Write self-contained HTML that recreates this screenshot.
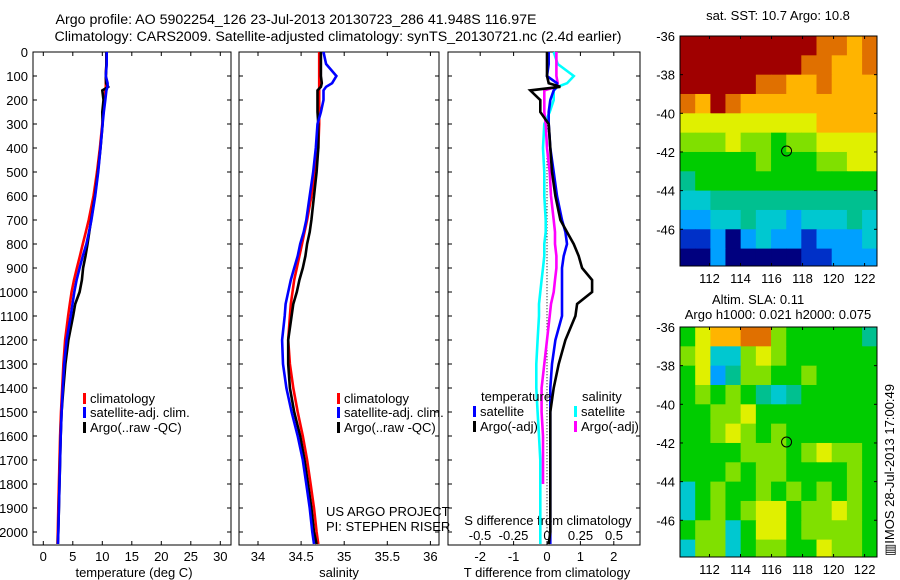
<!DOCTYPE html>
<html><head><meta charset="utf-8">
<style>
html,body{margin:0;padding:0;background:#fff;}
svg{display:block;font-family:"Liberation Sans",sans-serif;font-size:13px;}
.ttl{font-size:14.2px;}
</style></head>
<body>
<svg id="chart" width="900" height="580" viewBox="0 0 900 580" xmlns="http://www.w3.org/2000/svg">
<text class="ttl" x="296" y="24" text-anchor="middle">Argo profile: AO 5902254_126 23-Jul-2013 20130723_286 41.948S 116.97E</text>
<text class="ttl" x="338" y="41" text-anchor="middle">Climatology: CARS2009. Satellite-adjusted climatology: synTS_20130721.nc (2.4d earlier)</text>
<g id="g"></g>
</svg>
<script>
// ---- data ----
const depths = [0,50,100,130,145,160,200,250,300,400,500,600,700,750,800,850,900,950,1000,1050,1100,1200,1300,1400,1500,1600,1700,1800,1900,2000,2050];
const depthTicks = [0,100,200,300,400,500,600,700,800,900,1000,1100,1200,1300,1400,1500,1600,1700,1800,1900,2000];
const climT = [10.7,10.7,10.6,10.6,10.6,10.5,10.4,10.2,10.0,9.6,9.1,8.5,7.7,7.2,6.7,6.2,5.7,5.2,4.8,4.5,4.2,3.7,3.4,3.2,3.0,2.85,2.75,2.65,2.55,2.45,2.4];
const satT = [10.75,10.75,10.6,10.9,10.9,10.7,10.5,10.25,10.05,9.7,9.3,8.8,8.15,7.75,7.3,6.7,6.15,5.65,5.25,4.95,4.65,3.95,3.55,3.3,3.1,2.95,2.85,2.75,2.65,2.55,2.5];
const argoT = [10.7,10.7,10.6,10.65,11.0,10.0,10.2,10.0,10.05,9.7,9.25,8.75,8.1,7.8,7.5,7.15,6.75,6.55,6.15,5.4,5.05,4.25,3.75,3.4,3.1,2.95,2.85,2.75,2.65,2.55,2.45];
const climS = [34.71,34.71,34.71,34.71,34.71,34.71,34.71,34.71,34.71,34.70,34.66,34.62,34.57,34.54,34.51,34.48,34.45,34.42,34.40,34.38,34.37,34.35,34.37,34.41,34.46,34.52,34.57,34.61,34.65,34.68,34.70];
const satS = [34.76,34.79,34.91,34.86,34.79,34.76,34.76,34.73,34.69,34.67,34.64,34.60,34.56,34.53,34.49,34.46,34.42,34.38,34.35,34.32,34.31,34.28,34.29,34.33,34.39,34.46,34.52,34.56,34.60,34.63,34.65];
const argoS = [34.73,34.73,34.73,34.74,34.73,34.69,34.69,34.69,34.70,34.70,34.68,34.65,34.62,34.60,34.57,34.55,34.52,34.48,34.45,34.41,34.39,34.35,34.35,34.37,34.42,34.49,34.54,34.58,34.62,34.65,34.68];
const dTsat = [0.05,0.05,0,0.3,0.3,0.2,0.1,0.05,0.05,0.1,0.2,0.3,0.45,0.55,0.6,0.5,0.45,0.45,0.45,0.45,0.45,0.25,0.15,0.1,0.1,0.1,0.1,0.1,0.1,0.1,0.1];
const dTargo = [0,0,0,0.05,0.4,-0.5,-0.2,-0.2,0.05,0.1,0.15,0.25,0.4,0.6,0.8,0.95,1.05,1.35,1.35,0.9,0.85,0.55,0.35,0.2,0.1,0.1,0.1,0.1,0.1,0.1,0.05];
const dSsat = [0.05,0.08,0.2,0.15,0.08,0.05,0.05,0.02,-0.02,-0.03,-0.02,-0.02,-0.01,-0.01,-0.02,-0.02,-0.03,-0.04,-0.05,-0.06,-0.06,-0.07,-0.08,-0.08,-0.07,-0.06,-0.05,-0.05,-0.05,-0.05,-0.05];
const dSargo = [0.07,0.07,0.07,0.08,0.07,-0.02,-0.02,-0.02,-0.01,0.0,0.02,0.03,0.05,0.06,0.06,0.07,0.07,0.06,0.05,0.03,0.02,0.0,-0.02,-0.04,-0.04,-0.03,-0.03,-0.03,null,null,null];
const tTicks = [0,5,10,15,20,25,30];
const sTicks = [34,34.5,35,35.5,36];
const dTTicks = [-2,-1,0,1,2];
const dSTicks = [-0.5,-0.25,0,0.25,0.5];
const dSTickLabels = ["-0.5","-0.25","0","0.25","0.5"];
const lonTicks = [112,114,116,118,120,122];
const latTicks = [-36,-38,-40,-42,-44,-46];
const mapLons = [110.1,111.08,112.06,113.03,114.01,114.99,115.97,116.95,117.92,118.9,119.88,120.86,121.84];
const mapLats = [-36,-37,-38,-39,-40,-41,-42,-43,-44,-45,-46,-47];
const sst = [
[10,10,10,10,10,10,10,10,10,9,9,8,9],
[10,10,10,10,10,10,10,10,9,9,8,8,9],
[10,10,10,10,10,9,9,8,8,9,8,8,8],
[9,8,10,9,8,8,8,8,8,8,8,8,8],
[7,7,7,7,7,7,7,7,7,8,8,8,8],
[6,6,6,7,6,6,5,6,6,7,7,7,7],
[5,5,5,5,5,6,5,5,5,6,6,7,7],
[4,5,5,5,5,5,5,5,5,5,5,5,5],
[3,3,4,4,4,4,4,4,4,4,4,4,4],
[2,2,3,3,4,3,3,2,3,3,3,4,3],
[1,1,2,0,2,3,2,2,1,2,2,2,3],
[0,0,2,0,0,0,0,0,1,1,2,2,2]];
const sla = [
[5,7,8,8,9,9,6,5,5,5,5,5,4],
[6,7,3,3,6,7,6,5,5,5,5,5,5],
[5,7,2,4,6,6,5,5,6,5,5,5,5],
[5,6,5,6,5,4,3,4,5,5,5,5,5],
[5,5,6,6,7,5,5,5,5,5,5,5,5],
[5,5,6,7,6,5,6,5,5,5,5,5,5],
[5,5,5,5,6,6,6,5,6,7,6,6,5],
[5,5,5,6,5,6,6,5,5,5,5,6,5],
[3,5,6,5,5,6,5,6,5,6,5,6,5],
[3,5,6,5,6,7,7,5,6,6,7,6,5],
[5,6,6,3,5,7,7,5,6,6,6,6,5],
[3,6,6,3,5,6,6,5,5,7,6,6,5]];
const floatLon = 116.97, floatLat = -41.95;

const palette = ["#00007f","#0030c8","#00a0ff","#00c8d0","#00c090","#00cc00","#80e000","#e0f000","#ffb400","#e07000","#a00000"];
const NS="http://www.w3.org/2000/svg";
const G=document.getElementById('g');
function mk(tag,attrs,parent){const e=document.createElementNS(NS,tag);for(const k in attrs)e.setAttribute(k,attrs[k]);(parent||G).appendChild(e);return e;}
function txt(x,y,s,anchor,parent){const t=mk('text',{x:x,y:y,'text-anchor':anchor||'start'},parent);t.textContent=s;return t;}

const Y0=52, PY=0.24, BOT=545;
const yD=d=>Y0+d*PY;
const panels=[
 {x0:33,x1:231,sx:v=>43.3+v*5.9,name:'temperature-panel'},
 {x0:239,x1:439,sx:v=>258+(v-34)*86.2,name:'salinity-panel'},
 {x0:448,x1:640,sx:v=>547+v*33.4,name:'difference-panel'}];
const sxS=v=>547+v*134;

panels.forEach((p,i)=>{
 const g=mk('g',{});
 
 
 const r=mk('rect',{x:p.x0,y:Y0,width:p.x1-p.x0,height:BOT-Y0,fill:'none',stroke:'#000','stroke-width':1},g);
 
 
 depthTicks.forEach(d=>{
  mk('line',{x1:p.x0,x2:p.x0+4,y1:yD(d),y2:yD(d),stroke:'#000'},g);
  mk('line',{x1:p.x1-4,x2:p.x1,y1:yD(d),y2:yD(d),stroke:'#000'},g);
 });
 p.g=g;
});
depthTicks.forEach(d=>{const t=txt(28,yD(d)+5,String(d),'end');
 
 });
function xticks(p,ticks,labels,sx,ly){
 ticks.forEach((v,i)=>{const x=sx(v);
  mk('line',{x1:x,x2:x,y1:BOT,y2:BOT-4,stroke:'#000'},p.g);
  mk('line',{x1:x,x2:x,y1:Y0,y2:Y0+4,stroke:'#000'},p.g);
  const t=txt(x,ly,labels[i],'middle',p.g);
  
  });
}
xticks(panels[0],tTicks,tTicks.map(String),panels[0].sx,561);
xticks(panels[1],sTicks,sTicks.map(String),panels[1].sx,561);
xticks(panels[2],dTTicks,dTTicks.map(String),panels[2].sx,561);
dSTicks.forEach((v,i)=>{const t=txt(sxS(v),540,dSTickLabels[i],'middle');
 
 });
[['temperature (deg C)',134,'x-axis-title-temperature'],['salinity',339,'x-axis-title-salinity'],['T difference from climatology',547,'x-axis-title-t-diff']].forEach(a=>{
 const t=txt(a[1],577,a[0],'middle');
 
 });
const st=txt(548,525,'S difference from climatology','middle');



const zl=mk('line',{x1:547,x2:547,y1:yD(280),y2:yD(2000),stroke:'#000','stroke-dasharray':'1,2'});



function series(vals,sx,color,name,w){
 let d='';let started=false;
 vals.forEach((v,i)=>{if(v===null){started=false;return;}
  d+=(started?'L':'M')+sx(v).toFixed(1)+','+yD(depths[i]).toFixed(1);started=true;});
 const p=mk('path',{d:d,fill:'none',stroke:color,'stroke-width':w||2.6,'stroke-linejoin':'miter'});
 
 
}
series(climT,panels[0].sx,'#f00','climatology-temperature-line');
series(argoT,panels[0].sx,'#000','argo-temperature-line');
series(satT,panels[0].sx,'#00f','satellite-temperature-line');
series(climS,panels[1].sx,'#f00','climatology-salinity-line');
series(argoS,panels[1].sx,'#000','argo-salinity-line');
series(satS,panels[1].sx,'#00f','satellite-salinity-line');
series(dSsat,sxS,'#00ffff','salinity-satellite-diff-line');
series(dSargo,sxS,'#ff00ff','salinity-argo-diff-line');
series(dTsat,panels[2].sx,'#00f','temperature-satellite-diff-line');
series(dTargo,panels[2].sx,'#000','temperature-argo-diff-line');

function legendItem(x,y,color,label,name){
 const g=mk('g',{});
 
 
 mk('rect',{x:x,y:y-10,width:3,height:11,fill:color},g);
 txt(x+7,y,label,'start',g);
}
legendItem(83,403,'#f00','climatology','legend-climatology');
legendItem(83,417,'#00f','satellite-adj. clim.','legend-satellite-adj');
legendItem(83,432,'#000','Argo(..raw -QC)','legend-argo');
legendItem(337,403,'#f00','climatology','legend-climatology-s');
legendItem(337,417,'#00f','satellite-adj. clim.','legend-satellite-adj-s');
legendItem(337,432,'#000','Argo(..raw -QC)','legend-argo-s');
let t=txt(481,401,'temperature');
t=txt(582,401,'salinity');
legendItem(473,416,'#00f','satellite','legend-t-satellite');
legendItem(473,431,'#000','Argo(-adj)','legend-t-argo');
legendItem(574,416,'#00ffff','satellite','legend-s-satellite');
legendItem(574,431,'#ff00ff','Argo(-adj)','legend-s-argo');
t=txt(326,516,'US ARGO PROJECT');
t=txt(326,531,'PI: STEPHEN RISER');

function drawMap(data,top,bottom,name,yLab){
 const L=680,R=877,lon0=110.1,lon1=122.8,lat0=-36,lat1=-47.9;
 const mx=v=>L+(v-lon0)*(R-L)/(lon1-lon0);
 const my=v=>top+(lat0-v)*(bottom-top)/(lat0-lat1);
 const g=mk('g',{});
 
 
 const cid='clip'+name;
 const cp=mk('clipPath',{id:cid},g);mk('rect',{x:L,y:top,width:R-L,height:bottom-top},cp);
 const cg=mk('g',{'clip-path':'url(#'+cid+')'},g);
 data.forEach((row,r)=>row.forEach((v,c)=>{
  const x=mx(mapLons[c]),y=my(mapLats[r]);
  const cell=mk('rect',{x:x,y:y,width:mx(mapLons[c]+0.98)-x+0.5,height:my(mapLats[r]-1)-y+0.5,fill:palette[v]},cg);
  
  
 }));
 mk('rect',{x:L,y:top,width:R-L,height:bottom-top,fill:'none',stroke:'#000'},g);
 const c=mk('circle',{cx:mx(floatLon),cy:my(floatLat),r:5,fill:'none',stroke:'#000'},g);
 
 
 lonTicks.forEach(v=>{mk('line',{x1:mx(v),x2:mx(v),y1:bottom,y2:bottom-3,stroke:'#000'},g);
  mk('line',{x1:mx(v),x2:mx(v),y1:top,y2:top+3,stroke:'#000'},g);
  const tl=txt(mx(v),yLab,String(v),'middle',g);
  
  });
 latTicks.forEach(v=>{mk('line',{x1:L,x2:L+3,y1:my(v),y2:my(v),stroke:'#000'},g);
  mk('line',{x1:R-3,x2:R,y1:my(v),y2:my(v),stroke:'#000'},g);
  const tl=txt(675,my(v)+5,String(v),'end',g);
  
  });
}
drawMap(sst,36,266,'sst-map',283);
drawMap(sla,327,557,'sla-map',574);
t=txt(778,20,'sat. SST: 10.7 Argo: 10.8','middle');
t=txt(712,304,'Altim. SLA: 0.11','start');
t=txt(778,319,'Argo h1000: 0.021 h2000: 0.075','middle');
t=txt(0,0,'\u25A5IMOS 28-Jul-2013 17:00:49','start');
t.setAttribute('transform','translate(894,556) rotate(-90)');


</script>
</body></html>
